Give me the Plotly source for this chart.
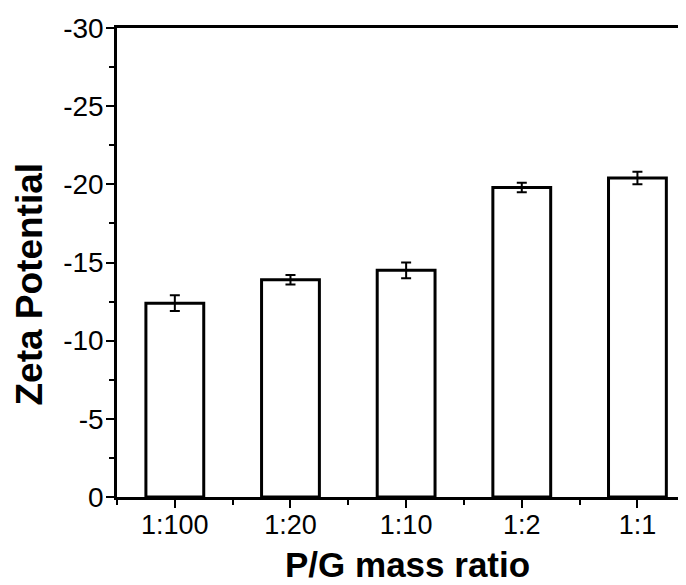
import plotly.graph_objects as go

# data
ratios = ['1:100', '1:20', '1:10', '1:2', '1:1']
zeta = [-12.4, -13.9, -14.5, -19.8, -20.4]
zeta_err = [0.5, 0.3, 0.5, 0.3, 0.4]
y_ticks = [0, -5, -10, -15, -20, -25, -30]
y_tick_labels = ['0', '-5', '-10', '-15', '-20', '-25', '-30']

FONT = 'Liberation Sans, Arial, sans-serif'

fig = go.Figure()
fig.add_trace(go.Bar(
    x=list(range(len(ratios))), y=zeta, width=0.5,
    marker=dict(color='white', line=dict(color='black', width=3)),
    error_y=dict(type='data', array=zeta_err, color='black', thickness=2, width=5),
    showlegend=False,
))

fig.update_xaxes(
    range=[-0.5, 4.42], tickvals=list(range(len(ratios))), ticktext=ratios,
    showline=True, linecolor='black', linewidth=2.5, mirror=True,
    ticks='outside', ticklen=8, tickwidth=2, tickcolor='black',
    minor=dict(tick0=0.5, dtick=1, ticks='outside', ticklen=5, tickwidth=2, tickcolor='black'),
    showgrid=False, zeroline=False, automargin=False,
    tickfont=dict(family=FONT, size=27, color='black'), ticklabelstandoff=-6,
)
fig.update_yaxes(
    range=[0, -30], tickvals=y_ticks, ticktext=y_tick_labels,
    showline=True, linecolor='black', linewidth=2.5,
    ticks='outside', ticklen=8, tickwidth=2, tickcolor='black',
    minor=dict(dtick=2.5, ticks='outside', ticklen=5, tickwidth=2, tickcolor='black'),
    showgrid=False, zeroline=False, automargin=False,
    tickfont=dict(family=FONT, size=28, color='black'), ticklabelstandoff=-3,
)

# axis titles as annotations so they sit where the reference has them
fig.add_annotation(text='<b>P/G mass ratio</b>', xref='paper', yref='paper',
                   x=0.51, y=-0.143, xanchor='center', yanchor='middle', showarrow=False,
                   font=dict(family=FONT, size=35, color='black'))
fig.add_annotation(text='<b>Zeta Potential</b>', xref='paper', yref='paper',
                   x=-0.153, y=0.455, xanchor='center', yanchor='middle', showarrow=False,
                   textangle=-90, font=dict(family=FONT, size=37, color='black'))

# page body has an 8px margin, so the figure is 8px smaller and margins shifted
fig.update_layout(
    width=678, height=577,
    margin=dict(l=109, r=0, t=20, b=88),
    plot_bgcolor='white', paper_bgcolor='white',
)
fig.write_html('out.html')
